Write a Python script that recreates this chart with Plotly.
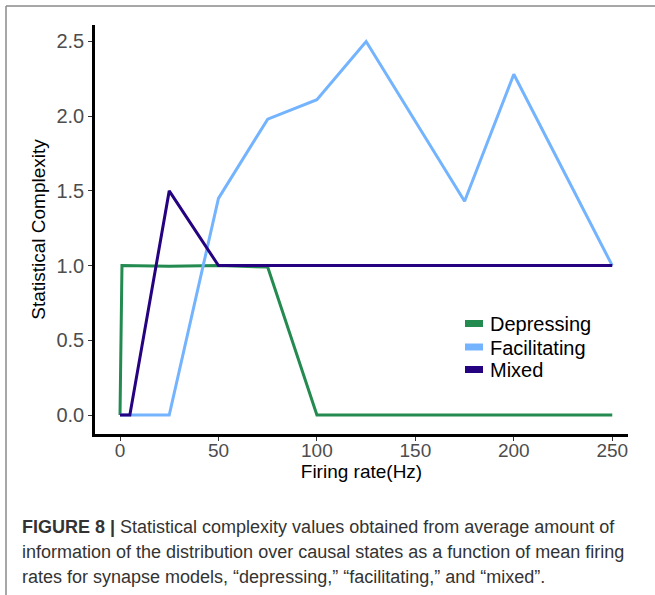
import plotly.graph_objects as go

# Data
dep_x = [0, 1, 25, 50, 75, 100, 250]
dep_y = [0.0, 1.0, 0.995, 1.0, 0.99, 0.0, 0.0]

fac_x = [0, 25, 50, 75, 100, 125, 175, 200, 250]
fac_y = [0.0, 0.0, 1.45, 1.98, 2.11, 2.50, 1.43, 2.28, 1.0]

mix_x = [0, 5, 25, 50, 250]
mix_y = [0.0, 0.0, 1.50, 1.0, 1.0]

series_names = ["Depressing", "Facilitating", "Mixed"]
colors = ["#238a50", "#74b4ff", "#250280"]

x_ticks = [0, 50, 100, 150, 200, 250]
y_ticks = [0.0, 0.5, 1.0, 1.5, 2.0, 2.5]
y_tick_text = ["0.0", "0.5", "1.0", "1.5", "2.0", "2.5"]

caption_lines = [
    "<b>FIGURE 8 |</b> Statistical complexity values obtained from average amount of",
    "information of the distribution over causal states as a function of mean firing",
    "rates for synapse models, \u201cdepressing,\u201d \u201cfacilitating,\u201d and \u201cmixed\u201d.",
]

FONT = "Liberation Sans, Arial, sans-serif"

fig = go.Figure()
for xs, ys, name, c in zip([dep_x, fac_x, mix_x], [dep_y, fac_y, mix_y], series_names, colors):
    fig.add_trace(go.Scatter(x=xs, y=ys, mode="lines", name=name,
                             line=dict(color=c, width=3), showlegend=False))

W, H = 655, 595
L, R, T, B = 95, 27, 25, 161
pw, ph = W - L - R, H - T - B

def px2x(px):
    return (px - L) / pw

def px2y(py):
    return (H - B - py) / ph

fig.update_layout(
    width=W, height=H,
    margin=dict(l=L, r=R, t=T, b=B),
    paper_bgcolor="white", plot_bgcolor="white",
    font=dict(family=FONT, size=19, color="black"),
    showlegend=False,
    xaxis=dict(range=[-12.7, 258], tickvals=x_ticks, showgrid=False, zeroline=False,
               showline=True, linecolor="black", linewidth=2.5,
               ticks="outside", ticklen=4, tickwidth=1, tickcolor="#333333",
               ticklabelstandoff=-7,
               tickfont=dict(size=19, color="#4d4d4d"),
               title=dict(text="Firing rate(Hz)", font=dict(size=19, color="black"), standoff=2)),
    yaxis=dict(range=[-0.127, 2.61], tickvals=y_ticks, ticktext=y_tick_text,
               showgrid=False, zeroline=False,
               showline=True, linecolor="black", linewidth=2.5,
               ticks="outside", ticklen=4, tickwidth=1, tickcolor="#333333",
               tickfont=dict(size=20, color="#4d4d4d"),
               title=dict(text="Statistical Complexity", font=dict(size=19, color="black"), standoff=6)),
)

# manual legend (keys + labels)
for name, c, yc in zip(series_names, colors, [323.5, 347, 369.5]):
    fig.add_shape(type="rect", xref="paper", yref="paper",
                  x0=px2x(465), x1=px2x(483), y0=px2y(yc - 3.5), y1=px2y(yc + 3.5),
                  fillcolor=c, line=dict(width=0))
    fig.add_annotation(text=name, xref="paper", yref="paper",
                       x=px2x(488), y=px2y(yc + 0.5), xanchor="left", yanchor="middle",
                       showarrow=False, font=dict(family=FONT, size=20, color="black"))

# figure frame
fig.add_shape(type="line", xref="paper", yref="paper",
              x0=px2x(6), x1=px2x(700), y0=px2y(6), y1=px2y(6),
              line=dict(color="#8a8a8a", width=1.5))
fig.add_shape(type="line", xref="paper", yref="paper",
              x0=px2x(6), x1=px2x(6), y0=px2y(6), y1=px2y(650),
              line=dict(color="#8a8a8a", width=1.5))

for line, yc in zip(caption_lines, [527, 552, 577]):
    fig.add_annotation(text=line, xref="paper", yref="paper",
                       x=px2x(20), y=px2y(yc), xanchor="left", yanchor="middle",
                       showarrow=False, font=dict(family=FONT, size=18, color="#333333"))

fig.write_html("out.html")
